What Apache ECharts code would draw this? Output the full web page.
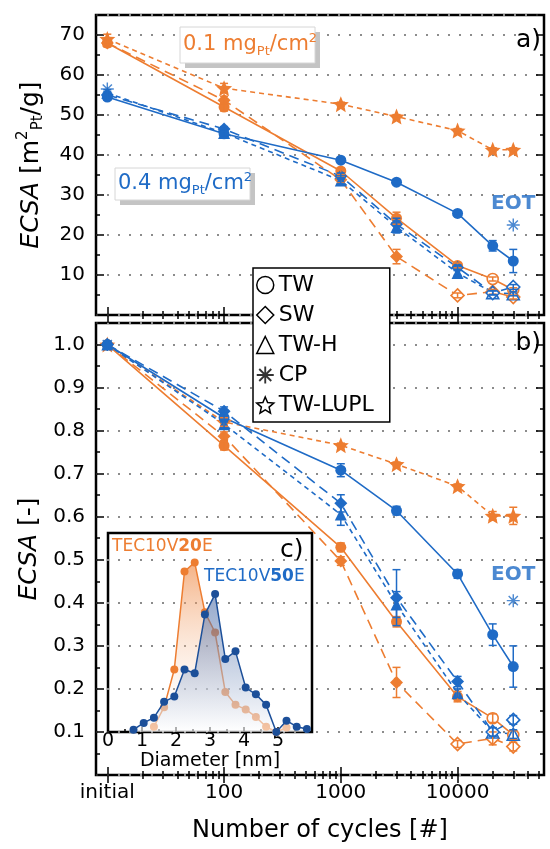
<!DOCTYPE html>
<html>
<head>
<meta charset="utf-8">
<title>ECSA vs cycles</title>
<script src="https://cdn.jsdelivr.net/npm/echarts@6/dist/echarts.min.js"></script>
<style>
html, body { margin: 0; padding: 0; background: #fff; }
#chart { width: 550px; height: 849px; }
</style>
</head>
<body>
<div id="chart"></div>
<script>
// "initial" is drawn at 10 cycles on the log axis
var cycles = [10, 100, 1000, 3000, 10000, 20000, 30000];
var tickMajor = [10, 100, 1000, 10000];
var tickMinor = [20, 30, 40, 50, 60, 70, 80, 90, 200, 300, 400, 500, 600, 700, 800, 900,
  2000, 3000, 4000, 5000, 6000, 7000, 8000, 9000, 20000, 30000, 40000, 50000];

// a) ECSA [m2_Pt/g]
var twBlueA  = [54.5, 45.3, 38.7, 33.2, 25.4, 17.3, 13.5];
var swBlueA  = [55.0, 46.5, 34.7, 22.7, 11.9, 5.5, 7.0];
var twhBlueA = [55.5, 45.5, 33.6, 22.0, 10.5, 5.6, 5.3];
var twOrA    = [68.0, 52.0, 36.0, 24.2, 12.4, 9.0, 6.3];
var swOrA    = [68.0, 53.7, 33.8, 14.6, 4.9, 5.8, 4.5];
var lupOrA   = [69.0, 56.7, 52.7, 49.6, 46.1, 41.3, 41.3];
var cpCycles = [10, 30000];
var cpBlueA  = [56.5, 22.5];
// error bars a)
var twBlueAe  = [0.8, 0, 0.6, 0.5, 0.5, 1.3, 2.9];
var swBlueAe  = [0.8, 0.6, 0.8, 1.5, 0.6, 0.5, 0.6];
var twhBlueAe = [0.8, 0.8, 0.8, 1.5, 0.6, 0.5, 0.5];
var twOrAe    = [0.8, 1.0, 0.8, 1.5, 0.6, 0.5, 0.5];
var swOrAe    = [1.0, 1.0, 0.8, 1.8, 0.6, 0.6, 0.5];
var lupOrAe   = [1.2, 1.2, 0.5, 0.5, 0.5, 0.5, 0.5];

// b) normalised ECSA [-]
var twBlueN  = [1, 0.830, 0.708, 0.614, 0.467, 0.326, 0.252];
var swBlueN  = [1, 0.845, 0.631, 0.412, 0.217, 0.100, 0.128];
var twhBlueN = [1, 0.815, 0.605, 0.396, 0.190, 0.100, 0.095];
var twOrN    = [1, 0.765, 0.529, 0.356, 0.182, 0.132, 0.093];
var swOrN    = [1, 0.787, 0.497, 0.215, 0.072, 0.085, 0.066];
var lupOrN   = [1, 0.820, 0.766, 0.722, 0.671, 0.602, 0.602];
var cpBlueN  = [1, 0.405];
// error bars b)
var twBlueNe  = [0, 0.010, 0.015, 0.010, 0.010, 0.025, 0.048];
var swBlueNe  = [0, 0.010, 0.020, 0.065, 0.012, 0.010, 0.010];
var twhBlueNe = [0, 0.010, 0.025, 0.030, 0.010, 0.010, 0.010];
var twOrNe    = [0, 0.010, 0.010, 0.012, 0.012, 0.010, 0.010];
var swOrNe    = [0, 0.010, 0.010, 0.035, 0.008, 0.015, 0.010];
var lupOrNe   = [0, 0.010, 0.005, 0.005, 0.005, 0.010, 0.020];

// c) particle size distribution
var diameter = [0.75, 1.05, 1.35, 1.65, 1.95, 2.25, 2.55, 2.85, 3.15, 3.45, 3.75, 4.05, 4.35, 4.65, 4.95, 5.25, 5.55, 5.85];
var freqV50  = [0.3, 1.2, 1.9, 4.0, 4.7, 8.3, 7.8, 15.6, 18.3, 9.7, 10.7, 5.9, 5.0, 3.6, 0.0, 1.5, 0.7, 0.4];
var freqV20  = [null, null, 0.7, 3.3, 8.3, 21.3, 22.5, 15.9, 13.2, 5.3, 3.6, 3.0, 2.0, 0.7, 0.0, 0.6, null, null];

var OR = '#ED7D31', BL = '#1F6BC6', NAVY = '#1C4F99';
var FF = 'DejaVu Sans';

function starPath() {
  var pts = [];
  for (var k = 0; k < 10; k++) {
    var r = k % 2 ? 0.45 : 1, a = -Math.PI / 2 + k * Math.PI / 5;
    pts.push((r * Math.cos(a)).toFixed(3) + ',' + (r * Math.sin(a)).toFixed(3));
  }
  return 'path://M' + pts.join('L') + 'Z';
}
function asteriskPath() {
  var d = '', w = 0.11;
  [90, 0, 45, 135].forEach(function (deg) {
    var a = deg * Math.PI / 180, c = Math.cos(a), s = Math.sin(a);
    var p = [[c - w * s, s + w * c], [c + w * s, s - w * c], [-c + w * s, -s - w * c], [-c - w * s, -s + w * c]];
    d += 'M' + p.map(function (q) { return q[0].toFixed(3) + ',' + q[1].toFixed(3); }).join('L') + 'Z';
  });
  return 'path://' + d;
}
var STAR = starPath(), AST = asteriskPath();

function cyclesAxes(grid, withLabels) {
  var out = [];
  ['bottom', 'top'].forEach(function (pos) {
    [[tickMajor, 8], [tickMinor, 4]].forEach(function (t) {
      out.push({
        type: 'log', logBase: 10, gridIndex: grid, position: pos, min: 8, max: 55000,
        axisLine: { show: false }, splitLine: { show: false },
        axisTick: { show: true, inside: true, length: t[1], customValues: t[0], lineStyle: { color: '#000', width: 1.5 } },
        axisLabel: { show: false }
      });
    });
  });
  if (withLabels) {
    out[0].axisLabel = {
      show: true, customValues: tickMajor, margin: 8, fontSize: 20, fontFamily: FF, color: '#000',
      formatter: function (v) { v = Math.round(v); return v === 10 ? 'initial' : String(v); }
    };
    out[0].name = 'Number of cycles [#]';
    out[0].nameLocation = 'middle';
    out[0].nameGap = 44;
    out[0].nameTextStyle = { fontSize: 24, fontFamily: FF, color: '#000' };
  }
  return out;
}

function valueAxes(grid, max, major, minor, fmt, name) {
  var out = [];
  ['left', 'right'].forEach(function (pos) {
    [[major, 8], [minor, 4]].forEach(function (t) {
      out.push({
        type: 'value', gridIndex: grid, position: pos, min: 0, max: max, interval: t[0],
        axisLine: { show: false }, splitLine: { show: false }, axisLabel: { show: false },
        axisTick: { show: true, inside: true, length: t[1], lineStyle: { color: '#000', width: 1.5 } }
      });
    });
  });
  out[0].axisLabel = { show: true, margin: 11, fontSize: 20, fontFamily: FF, color: '#000', formatter: fmt };
  out[0].splitLine = { show: true, lineStyle: { color: '#8c8c8c', type: [2, 9], width: 1.8 } };
  out[0].name = name;
  out[0].nameLocation = 'middle';
  out[0].nameRotate = 90;
  out[0].nameGap = 50;
  var base = { fontSize: 25, fontFamily: FF, color: '#000', lineHeight: 30 };
  out[0].nameTextStyle = {
    rich: {
      i: Object.assign({}, base, { fontStyle: 'italic' }),
      n: base,
      p: { fontSize: 15, fontFamily: FF, color: '#000', lineHeight: 15, verticalAlign: 'top' },
      b: { fontSize: 15, fontFamily: FF, color: '#000', lineHeight: 15, verticalAlign: 'bottom' }
    }
  };
  return out;
}

var xAxes = cyclesAxes(0, false).concat(cyclesAxes(1, true));
var yAxes = valueAxes(0, 75, 10, 5, function (v) { return v > 0 && v % 10 === 0 ? String(v) : ''; },
  '{i|ECSA}{n| [m}{p|2}{b|Pt}{n|/g]}')
  .concat(valueAxes(1, 1.05, 0.1, 0.05, function (v) {
    return v > 0.05 && v < 1.01 ? v.toFixed(1) : '';
  }, '{i|ECSA}{n| [-]}'));

// inset axes
xAxes.push({
  type: 'value', gridIndex: 2, min: 0, max: 6, interval: 1, position: 'bottom',
  axisLine: { show: false }, splitLine: { show: false },
  axisTick: { inside: true, length: 5, lineStyle: { color: '#000', width: 1.5 } },
  minorTick: { show: true, splitNumber: 2, length: 3, lineStyle: { color: '#000', width: 1.5 } },
  axisLabel: { margin: 0, fontSize: 19, fontFamily: FF, color: '#000', formatter: function (v) { return v < 6 ? String(v) : ''; } },
  name: 'Diameter [nm]', nameLocation: 'middle', nameGap: 18,
  nameTextStyle: { fontSize: 19, fontFamily: FF, color: '#000' }
});
yAxes.push({ type: 'value', gridIndex: 2, min: 0, max: 26.4, show: false });

function lineSeries(name, ax, ys, color, dash, symbol, size, openFrom) {
  return {
    type: 'line', name: name, xAxisIndex: ax, yAxisIndex: ax, z: 3,
    symbol: symbol, symbolSize: size, showAllSymbol: true,
    itemStyle: { color: color },
    lineStyle: { color: color, width: 1.6, type: dash },
    data: cycles.map(function (c, i) {
      var d = { value: [c, ys[i]] };
      if (openFrom != null && i >= openFrom) d.itemStyle = { color: '#fff', borderColor: color, borderWidth: 1.6 };
      return d;
    })
  };
}
function renderErr(params, api) {
  var e = api.value(2);
  if (!e) return null;
  var x = api.value(0), y = api.value(1);
  var hi = api.coord([x, y + e]), lo = api.coord([x, y - e]);
  var st = { stroke: api.visual('color'), lineWidth: 1.5 };
  return {
    type: 'group', children: [
      { type: 'line', shape: { x1: hi[0], y1: hi[1], x2: lo[0], y2: lo[1] }, style: st },
      { type: 'line', shape: { x1: hi[0] - 4, y1: hi[1], x2: hi[0] + 4, y2: hi[1] }, style: st },
      { type: 'line', shape: { x1: lo[0] - 4, y1: lo[1], x2: lo[0] + 4, y2: lo[1] }, style: st }
    ]
  };
}
function errSeries(ax, ys, es, color) {
  return {
    type: 'custom', name: 'err', xAxisIndex: ax, yAxisIndex: ax, z: 4,
    itemStyle: { color: color }, renderItem: renderErr,
    encode: { x: 0, y: 1 },
    data: cycles.map(function (c, i) { return [c, ys[i], es[i]]; })
  };
}
function cpSeries(ax, ys, dist) {
  return {
    type: 'scatter', name: 'CP', xAxisIndex: ax, yAxisIndex: ax, z: 4,
    symbol: AST, symbolSize: 13, itemStyle: { color: BL },
    data: cpCycles.map(function (c, i) {
      var d = { value: [c, ys[i]] };
      if (i === cpCycles.length - 1) d.label = {
        show: true, formatter: 'EOT', position: 'top', distance: dist,
        fontSize: 20, fontWeight: 'bold', fontFamily: FF, color: BL
      };
      return d;
    })
  };
}

var LONG = [10, 6], SHORT = [5, 4];
function panel(ax, d) {
  return [
    lineSeries('TW-LUPL', ax, d.lupOr, OR, SHORT, STAR, 16),
    lineSeries('SW', ax, d.swOr, OR, LONG, 'diamond', 13, 4),
    lineSeries('TW', ax, d.twOr, OR, 'solid', 'circle', 11, 5),
    lineSeries('TW-H', ax, d.twhBlue, BL, SHORT, 'triangle', 12, 5),
    lineSeries('SW', ax, d.swBlue, BL, LONG, 'diamond', 13, 5),
    lineSeries('TW', ax, d.twBlue, BL, 'solid', 'circle', 11),
    errSeries(ax, d.lupOr, d.lupOrE, OR),
    errSeries(ax, d.swOr, d.swOrE, OR),
    errSeries(ax, d.twOr, d.twOrE, OR),
    errSeries(ax, d.twhBlue, d.twhBlueE, BL),
    errSeries(ax, d.swBlue, d.swBlueE, BL),
    errSeries(ax, d.twBlue, d.twBlueE, BL),
    cpSeries(ax, d.cp, d.dist)
  ];
}

var series = panel(0, {
  lupOr: lupOrA, swOr: swOrA, twOr: twOrA, twhBlue: twhBlueA, swBlue: swBlueA, twBlue: twBlueA, cp: cpBlueA,
  lupOrE: lupOrAe, swOrE: swOrAe, twOrE: twOrAe, twhBlueE: twhBlueAe, swBlueE: swBlueAe, twBlueE: twBlueAe, dist: 5
}).concat(panel(4, {
  lupOr: lupOrN, swOr: swOrN, twOr: twOrN, twhBlue: twhBlueN, swBlue: swBlueN, twBlue: twBlueN, cp: cpBlueN,
  lupOrE: lupOrNe, swOrE: swOrNe, twOrE: twOrNe, twhBlueE: twhBlueNe, swBlueE: swBlueNe, twBlueE: twBlueNe, dist: 9
}));

// inset: size distributions, blue drawn over orange
series.push({
  type: 'line', name: 'TEC10V20E', xAxisIndex: 8, yAxisIndex: 8, z: 5,
  symbol: 'circle', symbolSize: 8, itemStyle: { color: OR }, lineStyle: { color: OR, width: 1.5 },
  areaStyle: { color: new echarts.graphic.LinearGradient(0, 0, 0, 1, [
    { offset: 0, color: 'rgba(237,125,49,0.85)' }, { offset: 1, color: 'rgba(255,255,255,0.1)' }]) },
  data: diameter.map(function (x, i) { return [x, freqV20[i]]; })
});
series.push({
  type: 'line', name: 'TEC10V50E', xAxisIndex: 8, yAxisIndex: 8, z: 6,
  symbol: 'circle', symbolSize: 8, itemStyle: { color: NAVY }, lineStyle: { color: NAVY, width: 1.5 },
  areaStyle: { color: new echarts.graphic.LinearGradient(0, 0, 0, 1, [
    { offset: 0, color: 'rgba(40,80,150,0.7)' }, { offset: 1, color: 'rgba(255,255,255,0.8)' }]) },
  data: diameter.map(function (x, i) { return [x, freqV50[i]]; })
});

var open = { color: '#fff', borderColor: '#000', borderWidth: 1.5 };
function richFor(col) {
  return {
    a: { fontSize: 21, fontFamily: FF, fill: col, lineHeight: 26 },
    s: { fontSize: 13, fontFamily: FF, fill: col, lineHeight: 13, verticalAlign: 'bottom' },
    p: { fontSize: 13, fontFamily: FF, fill: col, lineHeight: 13, verticalAlign: 'top' }
  };
}
function loadBox(x, y, w, h, label, col) {
  return [
    { type: 'rect', z: 50, shape: { x: x + 5, y: y + 5, width: w, height: h }, style: { fill: '#c4c4c4' } },
    { type: 'rect', z: 51, shape: { x: x, y: y, width: w, height: h }, style: { fill: '#fff', stroke: '#d6d6d6', lineWidth: 1 } },
    { type: 'text', z: 52, x: x + 3, y: y + h / 2,
      style: { text: '{a|' + label + ' mg}{s|Pt}{a|/cm}{p|2}', rich: richFor(col), verticalAlign: 'middle' } }
  ];
}
function tag(x, y, txt, size, align) {
  return { type: 'text', z: 60, x: x, y: y,
    style: { text: txt, fontSize: size, fontFamily: FF, fill: '#000', align: align || 'left', verticalAlign: 'middle' } };
}
function insetTitle(x, y, a, b, col) {
  return { type: 'text', z: 60, x: x, y: y, style: {
    text: '{n|' + a + '}{b|' + b + '}{n|E}', verticalAlign: 'middle',
    rich: { n: { fontSize: 17, fontFamily: FF, fill: col }, b: { fontSize: 17, fontFamily: FF, fontWeight: 'bold', fill: col } }
  } };
}

var graphic = [].concat(
  loadBox(180, 27, 135, 36, '0.1', OR),
  loadBox(115, 168, 135, 32, '0.4', BL),
  [tag(541, 40, 'a)', 25, 'right'), tag(541, 343, 'b)', 25, 'right'), tag(280, 550, 'c)', 25),
   insetTitle(112, 547, 'TEC10V', '20', OR), insetTitle(204, 577, 'TEC10V', '50', BL)]
);

var chart = echarts.init(document.getElementById('chart'));
chart.setOption({
  animation: false,
  backgroundColor: '#fff',
  grid: [
    { left: 96, right: 6, top: 15, height: 300, show: true, borderColor: '#000', borderWidth: 2.5, backgroundColor: 'transparent' },
    { left: 96, right: 6, top: 323, height: 452, show: true, borderColor: '#000', borderWidth: 2.5, backgroundColor: 'transparent' },
    { left: 108, top: 533, width: 204, height: 199, show: true, borderColor: '#000', borderWidth: 2.5, backgroundColor: 'transparent' }
  ],
  xAxis: xAxes,
  yAxis: yAxes,
  legend: {
    orient: 'vertical', left: 253, top: 268, itemGap: 8, itemWidth: 17, itemHeight: 17,
    padding: [6, 16, 6, 3], backgroundColor: '#fff', borderColor: '#000', borderWidth: 1.5,
    selectedMode: false, z: 20,
    textStyle: { fontSize: 22, fontFamily: FF, color: '#000' },
    data: [
      { name: 'TW', icon: 'circle', itemStyle: open },
      { name: 'SW', icon: 'diamond', itemStyle: open },
      { name: 'TW-H', icon: 'triangle', itemStyle: open },
      { name: 'CP', icon: AST, itemStyle: { color: '#000', borderWidth: 0 } },
      { name: 'TW-LUPL', icon: STAR, itemStyle: open }
    ]
  },
  graphic: graphic,
  series: series
});
</script>
</body>
</html>
